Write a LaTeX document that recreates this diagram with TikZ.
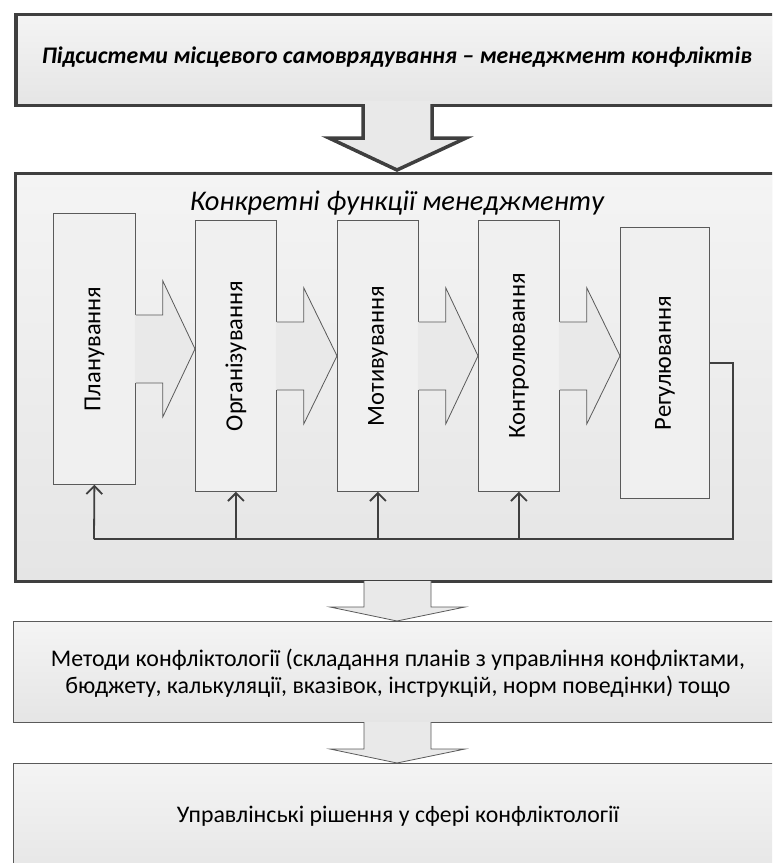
\documentclass[tikz,border=0pt]{standalone}
\usepackage{fontspec}
\setmainfont{Carlito}
\usetikzlibrary{arrows.meta,shadows}
\definecolor{edge}{HTML}{3F3F3F}
\definecolor{thinedge}{HTML}{5A5A5A}
\definecolor{fillhi}{HTML}{F4F4F4}
\definecolor{filllo}{HTML}{E5E5E5}
\definecolor{stagefill}{HTML}{F0F0F0}
\definecolor{arrowfill}{HTML}{E9E9E9}
\begin{document}
\begin{tikzpicture}[x=1pt,y=-1pt,
  framebox/.style={draw=edge, line width=3.5pt, top color=fillhi, bottom color=filllo,
    anchor=north west, inner sep=0pt,
    drop shadow={shadow xshift=1.5pt, shadow yshift=-1.5pt, opacity=0.25}},
  plainbox/.style={draw=thinedge, line width=0.8pt, top color=fillhi, bottom color=filllo,
    anchor=north west, inner sep=0pt},
  stagebox/.style={draw=thinedge, line width=0.8pt, fill=stagefill,
    anchor=north west, inner sep=0pt, minimum height=271pt},
  stagetext/.style={rotate=90, font=\fontsize{24.5}{28}\selectfont},
  blockline/.style={draw=thinedge, line width=0.8pt, line join=miter},
  fb/.style={draw=edge, line width=1.8pt},
  fbarrow/.style={fb, -{Straight Barb[length=8pt, width=16pt, line width=1.8pt]}},
]
\useasboundingbox (0,0) rectangle (772,863);
\clip (0,0) rectangle (772,863);

% top frame: subsystems of local self-government
\node[framebox, minimum width=800pt, minimum height=91pt] (sub) at (14,12.5) {};
\node[font=\bfseries\itshape\fontsize{23.8}{28}\selectfont] (subtxt) at (397,57)
  {Підсистеми місцевого самоврядування – менеджмент конфліктів};

% thick block arrow down
\fill[arrowfill] (363,101) -- (363,138) -- (329,138) -- (397,170) -- (466,138) -- (432,138) -- (432,101) -- cycle;

% main frame: specific management functions
\node[framebox, minimum width=800pt, minimum height=408pt] (funcs) at (13.5,171.5) {};
\draw[draw=edge, line width=3.5pt, line join=miter, fill=arrowfill]
  (363,104) -- (363,138) -- (329,138) -- (397,170) -- (466,138) -- (432,138) -- (432,104);
\fill[arrowfill] (365,101) rectangle (430,106);
\node[font=\itshape\fontsize{28.5}{32}\selectfont] (title) at (397,203)
  {Конкретні функції менеджменту};

% five function boxes
\node[stagebox, minimum width=82pt] (plan) at (53,213) {};
\node[stagebox, minimum width=81pt] (org)  at (195,220) {};
\node[stagebox, minimum width=81pt] (mot)  at (337,220) {};
\node[stagebox, minimum width=81pt] (ctrl) at (478,220) {};
\node[stagebox, minimum width=89pt] (reg)  at (620,227) {};

% block arrows between the boxes
\foreach \a/\b in {plan/org, org/mot, mot/ctrl, ctrl/reg} {
  \path (\a.east) coordinate (e) (\b.west) coordinate (w);
  \fill[arrowfill] ([xshift=-1pt,yshift=-34pt]e) -- ([xshift=27pt,yshift=-34pt]e)
     -- ([xshift=27pt,yshift=-68pt]e) -- (e -| w) -- ([xshift=27pt,yshift=68pt]e)
     -- ([xshift=27pt,yshift=34pt]e) -- ([xshift=-1pt,yshift=34pt]e) -- cycle;
  \draw[blockline] ([yshift=-34pt]e) -- ([xshift=27pt,yshift=-34pt]e)
     -- ([xshift=27pt,yshift=-68pt]e) -- (e -| w) -- ([xshift=27pt,yshift=68pt]e)
     -- ([xshift=27pt,yshift=34pt]e) -- ([yshift=34pt]e);
}

\node[stagetext] (plantxt) at (plan) {Планування};
\node[stagetext] (orgtxt)  at (org)  {Організування};
\node[stagetext] (mottxt)  at (mot)  {Мотивування};
\node[stagetext] (ctrltxt) at (ctrl) {Контролювання};
\node[stagetext] (regtxt)  at (reg)  {Регулювання};

% feedback loop from regulation back to every function
\coordinate (fbr) at (733,539);
\coordinate (fbl) at (94,539);
\draw[fb, line join=miter] (reg.east) -| (fbr) -- (fbl);
\draw[fbarrow] (fbl) -- (plan.south);
\draw[fbarrow] (org.south |- fbl) -- (org.south);
\draw[fbarrow] (mot.south |- fbl) -- (mot.south);
\draw[fbarrow] (ctrl.south |- fbl) -- (ctrl.south);

% methods box and its arrow
\node[plainbox, minimum width=800pt, minimum height=101pt] (meth) at (13,621) {};
\draw[blockline, fill=arrowfill] (364,581) -- (364,607) -- (330,607) -- (397,621) -- (465,607) -- (431,607) -- (431,581);
\node[align=center, font=\fontsize{23.9}{27}\selectfont] (methtxt) at (398,673.5)
  {Методи конфліктології (складання планів з управління конфліктами,\\
   бюджету, калькуляції, вказівок, інструкцій, норм поведінки) тощо};

% decisions box and its arrow
\node[plainbox, minimum width=800pt, minimum height=120pt] (dec) at (13,763) {};
\draw[blockline, fill=arrowfill] (364,722) -- (364,749) -- (330,749) -- (397,763) -- (465,749) -- (431,749) -- (431,722);
\node[font=\fontsize{23.8}{28}\selectfont] (dectxt) at (398,816)
  {Управлінські рішення у сфері конфліктології};
\end{tikzpicture}
\end{document}
